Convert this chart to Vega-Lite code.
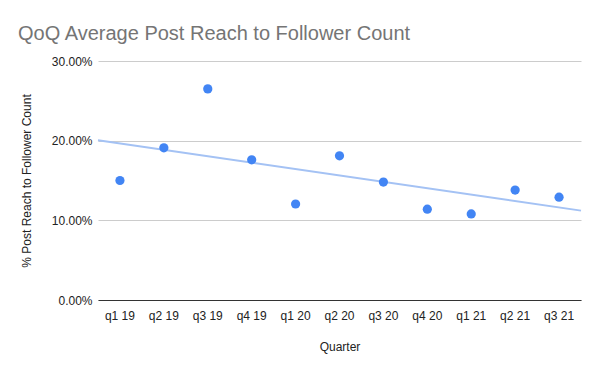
{
  "$schema": "https://vega.github.io/schema/vega-lite/v6.json",
  "width": 483,
  "height": 239,
  "autosize": {"type": "none"},
  "padding": {"left": 98, "top": 61, "right": 19, "bottom": 71},
  "background": "white",
  "title": {
    "text": "QoQ Average Post Reach to Follower Count",
    "anchor": "start",
    "frame": "group",
    "dx": -80,
    "dy": 24,
    "offset": 19,
    "baseline": "alphabetic",
    "fontSize": 20,
    "font": "Liberation Sans",
    "fontWeight": "normal",
    "color": "#757575"
  },
  "config": {"view": {"stroke": null}, "font": "Liberation Sans"},
  "data": {
    "values": [
      {"quarter": "q1 19", "reach": 0.150},
      {"quarter": "q2 19", "reach": 0.191},
      {"quarter": "q3 19", "reach": 0.265},
      {"quarter": "q4 19", "reach": 0.176},
      {"quarter": "q1 20", "reach": 0.1205},
      {"quarter": "q2 20", "reach": 0.181},
      {"quarter": "q3 20", "reach": 0.148},
      {"quarter": "q4 20", "reach": 0.114},
      {"quarter": "q1 21", "reach": 0.108},
      {"quarter": "q2 21", "reach": 0.138},
      {"quarter": "q3 21", "reach": 0.129}
    ]
  },
  "layer": [
    {
      "transform": [
        {"window": [{"op": "row_number", "as": "idx"}]},
        {"regression": "reach", "on": "idx", "extent": [0.5, 11.5]}
      ],
      "mark": {"type": "line", "color": "#A4C2F4", "strokeWidth": 2},
      "encoding": {
        "x": {"field": "idx", "type": "quantitative", "scale": {"domain": [0.5, 11.5], "nice": false, "zero": false}, "axis": null},
        "y": {"field": "reach", "type": "quantitative", "scale": {"domain": [0, 0.3]}}
      }
    },
    {
      "mark": {"type": "point", "filled": true, "size": 85, "color": "#4285F4", "opacity": 1},
      "encoding": {
        "x": {
          "field": "quarter",
          "type": "ordinal",
          "sort": null,
          "scale": {"type": "band", "paddingInner": 0, "paddingOuter": 0},
          "axis": {
            "labelAngle": 0,
            "title": "Quarter",
            "titleFontWeight": "normal",
            "titleFontSize": 12,
            "titleColor": "#222222",
            "titlePadding": 20,
            "labelFontSize": 12,
            "labelColor": "#222222",
            "labelPadding": 10,
            "ticks": false,
            "grid": false,
            "domainColor": "#333333",
            "domainWidth": 1
          }
        },
        "y": {
          "field": "reach",
          "type": "quantitative",
          "scale": {"domain": [0, 0.3]},
          "axis": {
            "format": ".2%",
            "values": [0, 0.1, 0.2, 0.3],
            "domain": false,
            "ticks": false,
            "gridColor": "#cccccc",
            "labelFontSize": 12,
            "labelColor": "#222222",
            "labelPadding": 6,
            "title": "% Post Reach to Follower Count",
            "titleFontWeight": "normal",
            "titleFontSize": 12,
            "titleColor": "#222222",
            "titlePadding": 18
          }
        }
      }
    }
  ],
  "resolve": {"scale": {"x": "independent"}}
}
